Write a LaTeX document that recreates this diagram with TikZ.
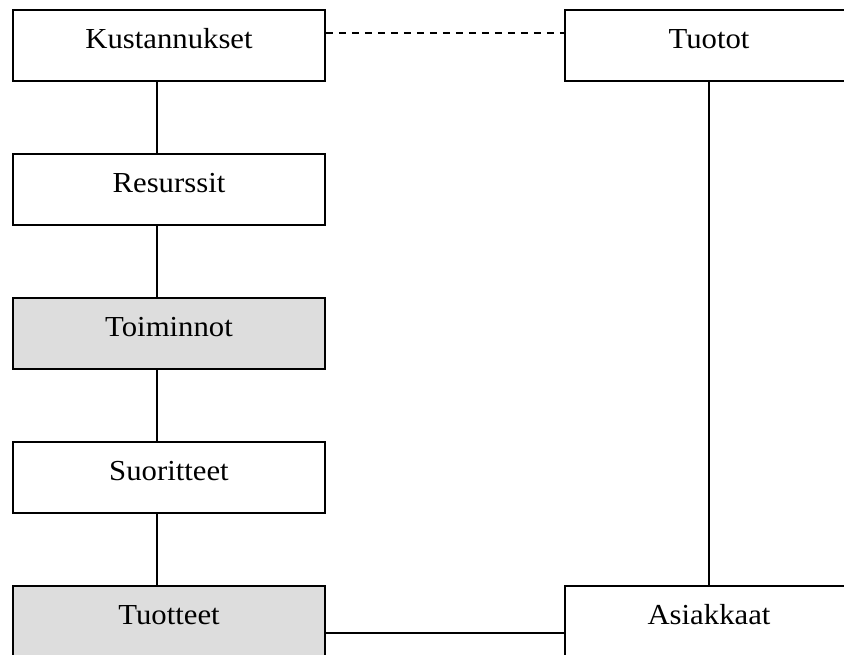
\documentclass[tikz,border=0pt]{standalone}
\usepackage{fontspec}
\setmainfont[FakeStretch=1.06]{Liberation Serif}
\begin{document}
\begin{tikzpicture}[x=1pt,y=-1pt,
  box/.style={draw=black,line width=1.8pt,rectangle,minimum width=312pt,minimum height=71pt,
    inner sep=0pt,text height=20pt,text depth=14pt,font=\fontsize{29}{34}\selectfont},
  rbox/.style={box,minimum width=288pt},
  shaded/.style={fill=graybox},
  link/.style={line width=1.8pt},
  dlink/.style={line width=1.8pt,dash pattern=on 7pt off 6pt}]
\definecolor{graybox}{HTML}{DDDDDD}
\useasboundingbox (0,0) rectangle (844,654);
\clip (0,0) rectangle (844,654);
\node[box] (kust) at (169,45.5) {Kustannukset};
\node[rbox] (tuot) at (709,45.5) {Tuotot};
\node[box] (res) at (169,189.5) {Resurssit};
\node[box,shaded] (toim) at (169,333.5) {Toiminnot};
\node[box] (suor) at (169,477.5) {Suoritteet};
\node[box,shaded] (tuott) at (169,621.5) {Tuotteet};
\node[rbox] (asiak) at (709,621.5) {Asiakkaat};
\draw[link] ([xshift=-12pt]kust.south) -- ([xshift=-12pt]res.north);
\draw[link] ([xshift=-12pt]res.south) -- ([xshift=-12pt]toim.north);
\draw[link] ([xshift=-12pt]toim.south) -- ([xshift=-12pt]suor.north);
\draw[link] ([xshift=-12pt]suor.south) -- ([xshift=-12pt]tuott.north);
\draw[link] (tuot.south) -- (asiak.north);
\draw[dlink] ([yshift=12.5pt]kust.east) -- ([yshift=12.5pt]tuot.west);
\draw[link] ([yshift=-11.5pt]tuott.east) -- ([yshift=-11.5pt]asiak.west);
\end{tikzpicture}
\end{document}
